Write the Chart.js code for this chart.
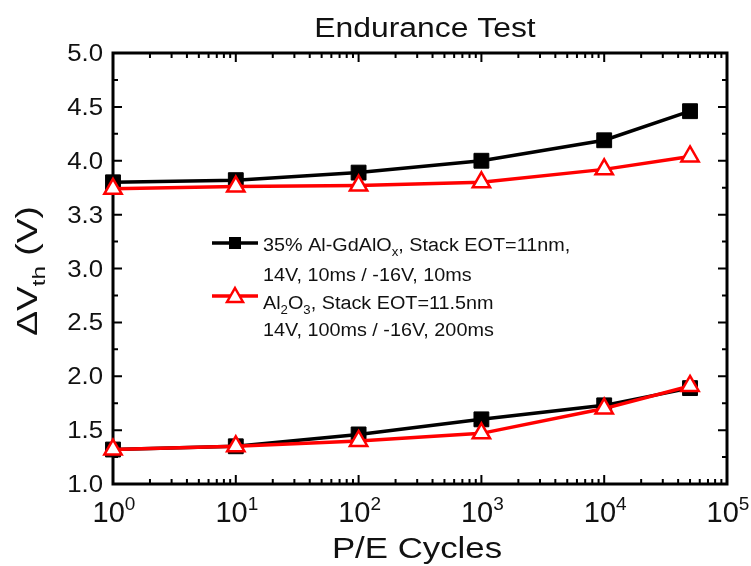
<!DOCTYPE html>
<html lang="en">
<head>
<meta charset="UTF-8">
<title>Endurance Test</title>
<script src="https://cdn.jsdelivr.net/npm/chart.js@4/dist/chart.umd.min.js"></script>
<style>
  html, body { margin: 0; padding: 0; background: #fff; }
</style>
</head>
<body>
<canvas id="myChart" width="751" height="566"></canvas>
<script>
// P/E cycles
const cycles = [1, 10, 100, 1000, 10000, 50000];
// 35% Al-GdAlOx (program / erase)
const gdProgram = [3.80, 3.82, 3.89, 4.00, 4.19, 4.46];
const gdErase = [1.32, 1.35, 1.46, 1.60, 1.73, 1.89];
// Al2O3 (program / erase)
const alProgram = [3.74, 3.76, 3.77, 3.80, 3.92, 4.04];
const alErase = [1.32, 1.35, 1.40, 1.47, 1.70, 1.91];
// tick labels
const xTickExps = ['0', '1', '2', '3', '4', '5'];
const yTickValues = [1.0, 1.5, 2.0, 2.5, 3.0, 3.5, 4.0, 4.5, 5.0];
const yTickLabels = ['1.0', '1.5', '2.0', '2.5', '3.0', '3.3', '4.0', '4.5', '5.0'];

const FONT = '"Liberation Sans", Arial, sans-serif';

function toPoints(ys) {
    return cycles.map(function (c, i) { return { x: c, y: ys[i] }; });
}

// draws text pieces (with sub/superscripts), returns nothing
function richWidth(ctx, parts, size) {
    let w = 0;
    parts.forEach(function (p) {
        ctx.font = (p.sub || p.sup ? Math.round(size * 0.65) : size) + 'px ' + FONT;
        w += ctx.measureText(p.t).width;
    });
    return w;
}
function drawRich(ctx, parts, x, y, size, sx, align) {
    ctx.save();
    ctx.translate(x, y);
    ctx.scale(sx, 1);
    let w = richWidth(ctx, parts, size);
    let cx = align === 'center' ? -w / 2 : (align === 'right' ? -w : 0);
    ctx.textAlign = 'left';
    ctx.textBaseline = 'alphabetic';
    parts.forEach(function (p) {
        let s = p.sub || p.sup ? Math.round(size * 0.65) : size;
        let dy = p.sub ? size * 0.28 : (p.sup ? -size * 0.4 : 0);
        ctx.font = s + 'px ' + FONT;
        ctx.fillText(p.t, cx, dy);
        cx += ctx.measureText(p.t).width;
    });
    ctx.restore();
}

const framePlugin = {
    id: 'frame',
    beforeDatasetsDraw(chart) {
        const ctx = chart.ctx;
        const a = chart.chartArea;
        const x = chart.scales.x, y = chart.scales.y;
        ctx.save();
        ctx.strokeStyle = '#000';
        ctx.lineWidth = 2;
        // x ticks, inward on bottom and top
        for (let e = 0; e <= 5; e++) {
            for (let m = 1; m <= 9; m++) {
                if (e === 5 && m > 1) break;
                const px = x.getPixelForValue(m * Math.pow(10, e));
                const len = m === 1 ? 9 : 5;
                ctx.beginPath();
                ctx.moveTo(px, a.bottom); ctx.lineTo(px, a.bottom - len);
                ctx.moveTo(px, a.top); ctx.lineTo(px, a.top + len);
                ctx.stroke();
            }
        }
        // y ticks, inward on left and right
        for (let k = 0; k <= 16; k++) {
            const py = y.getPixelForValue(1 + k * 0.25);
            const len = k % 2 === 0 ? 9 : 5;
            ctx.beginPath();
            ctx.moveTo(a.left, py); ctx.lineTo(a.left + len, py);
            ctx.moveTo(a.right, py); ctx.lineTo(a.right - len, py);
            ctx.stroke();
        }
        ctx.lineWidth = 3;
        ctx.strokeRect(a.left, a.top, a.right - a.left, a.bottom - a.top);
        ctx.restore();
    },
    afterDraw(chart) {
        const ctx = chart.ctx;
        const a = chart.chartArea;
        const x = chart.scales.x, y = chart.scales.y;
        ctx.save();
        ctx.fillStyle = '#111';
        // y tick labels
        yTickValues.forEach(function (v, i) {
            const py = y.getPixelForValue(v);
            drawRich(ctx, [{ t: yTickLabels[i] }], a.left - 10, py + 8, 23, 1.12, 'right');
        });
        // x tick labels 10^n
        xTickExps.forEach(function (n) {
            const px = x.getPixelForValue(Math.pow(10, Number(n)));
            drawRich(ctx, [{ t: '10' }, { t: n, sup: true }], px + 1, 522, 29, 1.0, 'center');
        });
        // title and axis titles
        drawRich(ctx, [{ t: 'Endurance Test' }], 425, 37, 27, 1.18, 'center');
        drawRich(ctx, [{ t: 'P/E Cycles' }], 417, 558, 29, 1.2, 'center');
        ctx.save();
        ctx.translate(37, 271);
        ctx.rotate(-Math.PI / 2);
        drawRich(ctx, [{ t: '\u0394V' }, { t: 'th', sub: true }, { t: ' (V)' }], 0, 0, 29, 1.28, 'center');
        ctx.restore();

        // legend
        ctx.lineWidth = 3.5;
        ctx.strokeStyle = '#000';
        ctx.beginPath(); ctx.moveTo(212, 243); ctx.lineTo(258, 243); ctx.stroke();
        ctx.fillStyle = '#000';
        ctx.fillRect(229, 237, 12, 12);
        ctx.strokeStyle = '#ff0000';
        ctx.beginPath(); ctx.moveTo(212, 296); ctx.lineTo(258, 296); ctx.stroke();
        ctx.fillStyle = '#fff';
        ctx.lineWidth = 2.5;
        ctx.beginPath();
        ctx.moveTo(235, 288); ctx.lineTo(243, 302); ctx.lineTo(227, 302); ctx.closePath();
        ctx.fill(); ctx.stroke();

        ctx.fillStyle = '#111';
        drawRich(ctx, [{ t: '35% Al-GdAlO' }, { t: 'x', sub: true }, { t: ', Stack EOT=11nm,' }], 263, 251, 18, 1.1, 'left');
        drawRich(ctx, [{ t: '14V, 10ms / -16V, 10ms' }], 263, 281, 18, 1.1, 'left');
        drawRich(ctx, [{ t: 'Al' }, { t: '2', sub: true }, { t: 'O' }, { t: '3', sub: true }, { t: ', Stack EOT=11.5nm' }], 263, 309, 18, 1.1, 'left');
        drawRich(ctx, [{ t: '14V, 100ms / -16V, 200ms' }], 263, 336, 18, 1.1, 'left');
        ctx.restore();
    }
};

const redStyle = {
    borderColor: '#ff0000',
    pointBorderColor: '#ff0000',
    pointBackgroundColor: '#ffffff',
    pointStyle: 'triangle',
    pointRadius: 10,
    pointBorderWidth: 2.5,
    borderWidth: 3.5,
    clip: false
};
const blackStyle = {
    borderColor: '#000000',
    pointBorderColor: '#000000',
    pointBackgroundColor: '#000000',
    pointStyle: 'rect',
    pointRadius: 10.5,
    pointBorderWidth: 1,
    borderWidth: 3.5,
    clip: false
};

const ctx = document.getElementById('myChart');
const mychart = new Chart(ctx, {
    type: 'line',
    data: {
        datasets: [
            Object.assign({ label: 'Al2O3 program', data: toPoints(alProgram) }, redStyle),
            Object.assign({ label: 'Al2O3 erase', data: toPoints(alErase) }, redStyle),
            Object.assign({ label: '35% Al-GdAlOx program', data: toPoints(gdProgram) }, blackStyle),
            Object.assign({ label: '35% Al-GdAlOx erase', data: toPoints(gdErase) }, blackStyle)
        ]
    },
    options: {
        responsive: false,
        animation: false,
        layout: { padding: { left: 113, top: 53, right: 24, bottom: 82 } },
        scales: {
            x: { type: 'logarithmic', min: 1, max: 100000, display: false },
            y: { type: 'linear', min: 1, max: 5, display: false }
        },
        plugins: {
            legend: { display: false },
            tooltip: { enabled: false }
        }
    },
    plugins: [framePlugin]
});
</script>
</body>
</html>
